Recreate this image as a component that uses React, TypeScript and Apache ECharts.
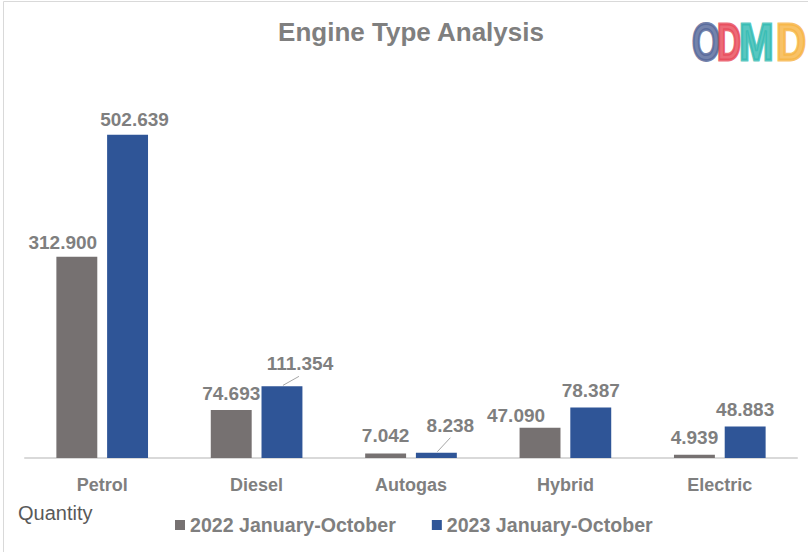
import React, { useEffect, useRef } from "react";
import * as echarts from "echarts";

const categories = ["Petrol", "Diesel", "Autogas", "Hybrid", "Electric"];
const series2022Name = "2022 January-October";
const series2023Name = "2023 January-October";
const values2022 = [312.9, 74.693, 7.042, 47.09, 4.939];
const values2023 = [502.639, 111.354, 8.238, 78.387, 48.883];
const titleText = "Engine Type Analysis";
const unitText = "Quantity";
const logoLetters = ["O", "D", "M", "D"];

const FONT = "'Liberation Sans', Arial, sans-serif";
const TXT = "#7f7f7f";

// label adjustments (dx, dy) per category index
const adj2022: [number, number][] = [[-14, 3], [0, 1], [0, 0], [-24, 5], [0, 0]];
const adj2023: [number, number][] = [[7, 2], [18, -5], [14, -10], [0, 0], [0, 0]];
// leader lines for moved 2023 labels: [category index, line end dx, line end dy]
const leaderLines: [number, number, number][] = [[1, 17, -10], [2, 14, -15]];

const BAR_W = 0.265;
const BAR_GAP = 0.24;

const fmt = (v: number) => v.toFixed(3);

export default function App() {
  const ref = useRef<HTMLDivElement>(null);
  useEffect(() => {
    if (!ref.current) return;
    const chart = echarts.init(ref.current, null, { renderer: "svg" });
    const labelCommon = {
      show: true,
      position: "top",
      distance: 8,
      fontFamily: FONT,
      fontWeight: "bold",
      fontSize: 19,
      color: TXT,
      formatter: (p: any) => fmt(p.value),
    };
    const logoColors = ["#55679a", "#e84a5a", "#33bbb2", "#f7b544"];
    const logoX = [692, 717, 739, 776];
    const logoScale = [0.7, 0.64, 0.8, 0.8];
    chart.setOption({
      animation: false,
      backgroundColor: "#ffffff",
      title: {
        text: titleText,
        left: 406,
        textAlign: "center",
        top: 14,
        textStyle: { fontFamily: FONT, fontWeight: "bold", fontSize: 26, color: TXT },
      },
      legend: {
        data: [series2022Name, series2023Name],
        left: 170,
        top: 510,
        icon: "rect",
        itemWidth: 10,
        itemHeight: 10,
        itemGap: 36,
        textStyle: { fontFamily: FONT, fontWeight: "bold", fontSize: 19.6, color: TXT },
      },
      grid: { left: 25, right: 11, top: 72, bottom: 94 },
      xAxis: {
        type: "category",
        data: categories,
        axisLine: { lineStyle: { color: "#d9d9d9", width: 2 } },
        axisTick: { show: false },
        axisLabel: { fontFamily: FONT, fontWeight: "bold", fontSize: 18, color: TXT, margin: 18 },
      },
      yAxis: {
        type: "value",
        min: 0,
        max: 600,
        show: false,
        splitLine: { show: false },
      },
      series: [
        {
          name: series2022Name,
          type: "bar",
          barWidth: BAR_W * 100 + "%",
          barGap: BAR_GAP * 100 + "%",
          itemStyle: { color: "#767171" },
          label: labelCommon,
          data: values2022,
          labelLayout: (p: any) => ({ dx: adj2022[p.dataIndex][0], dy: adj2022[p.dataIndex][1] }),
        },
        {
          name: series2023Name,
          type: "bar",
          barWidth: BAR_W * 100 + "%",
          barGap: BAR_GAP * 100 + "%",
          itemStyle: { color: "#2f5597" },
          label: labelCommon,
          data: values2023,
          labelLayout: (p: any) => ({ dx: adj2023[p.dataIndex][0], dy: adj2023[p.dataIndex][1] }),
        },
        {
          type: "custom",
          silent: true,
          z: 5,
          data: leaderLines.map(([c, ex, ey]) => [c, values2023[c], ex, ey]),
          renderItem: (params: any, api: any) => {
            const p = api.coord([api.value(0), api.value(1)]);
            const catW = api.size([1, 0])[0];
            const cx = p[0] + (catW * BAR_W * (1 + BAR_GAP)) / 2;
            return {
              type: "line",
              shape: { x1: cx + 1, y1: p[1] - 1, x2: cx + api.value(2), y2: p[1] + api.value(3) },
              style: { stroke: "#a6a6a6", lineWidth: 1 },
            };
          },
        },
      ],
      graphic: [
        {
          type: "rect",
          silent: true,
          shape: { x: 3.5, y: 1.5, width: 900, height: 700 },
          style: { fill: "none", stroke: "#d9d9d9", lineWidth: 1 },
        },
        {
          type: "text",
          left: 18,
          top: 503,
          style: { text: unitText, fontFamily: FONT, fontSize: 20, fill: "#595959" },
        },
        ...logoLetters.map((ch, i) => ({
          type: "text",
          x: logoX[i],
          y: 16,
          scaleX: logoScale[i],
          style: {
            text: ch,
            fontFamily: FONT,
            fontWeight: "bold",
            fontSize: 52,
            fill: logoColors[i],
            stroke: logoColors[i],
            lineWidth: 3,
            opacity: 0.82,
          },
        })),
      ],
    });
    return () => chart.dispose();
  }, []);
  return (
    <div
      ref={ref}
      style={{ position: "fixed", left: 0, top: 0, width: 808, height: 552 }}
    />
  );
}
